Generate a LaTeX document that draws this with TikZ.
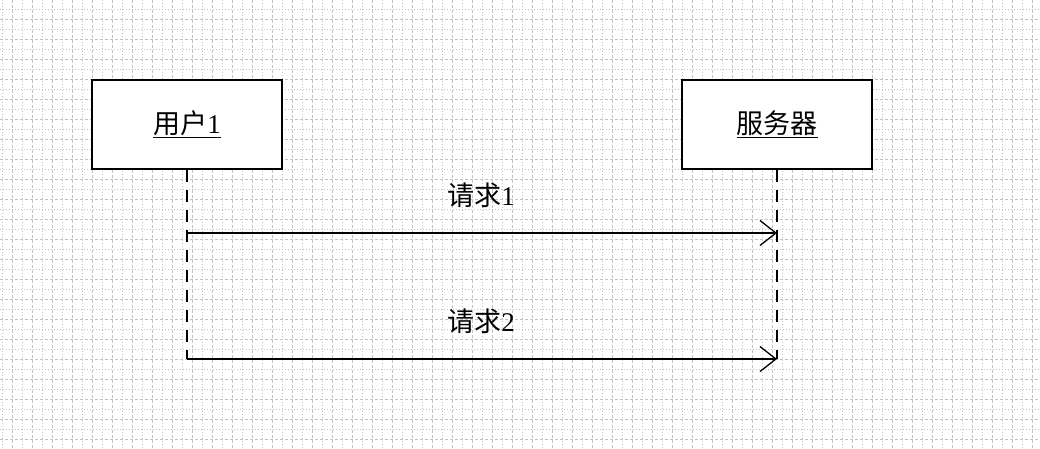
\documentclass[tikz,border=0pt]{standalone}
\usepackage{fontspec}
\setmainfont{Liberation Serif}
\newfontfamily\cjk{Noto Sans CJK SC}
\usetikzlibrary{arrows.meta}

\begin{document}
\begin{tikzpicture}[x=1pt,y=-1pt,font=\fontsize{27}{32}\selectfont,
    actor/.style={draw,line width=1.6pt,fill=white,minimum width=190pt,
        minimum height=89pt,inner sep=0pt},
    lifeline/.style={line width=1.4pt,dash pattern=on 12pt off 8pt},
    msg/.style={line width=1.3pt,
        -{Straight Barb[length=16pt,width=25pt,line width=1.3pt]}},
    minorgrid/.style={black!24,line width=0.8pt,dash pattern=on 1pt off 2pt},
    majorgrid/.style={black!24,line width=0.8pt,dash pattern=on 3pt off 2pt}]
    \useasboundingbox (0,0) rectangle (1040,449);
    \fill[white] (0,0) rectangle (1040,449);

    % grid
    \foreach \x in {2.5,22.5,...,1040}{
        \draw[minorgrid] (\x,0) -- (\x,449);
    }
    \foreach \x in {12.5,32.5,...,1040}{
        \draw[majorgrid] (\x,0) -- (\x,449);
    }
    \foreach \y in {9.5,29.5,...,449}{
        \draw[minorgrid] (0,\y) -- (1040,\y);
    }
    \foreach \y in {19.5,39.5,...,449}{
        \draw[majorgrid] (0,\y) -- (1040,\y);
    }

    % actors
    \node[actor] (user) at (187,124.5) {\underline{{\cjk 用户}1}};
    \node[actor] (server) at (777,124.5) {\underline{\cjk 服务器}};

    \coordinate (u1) at (187,233);
    \coordinate (s1) at (777,233);
    \coordinate (u2) at (187,359);
    \coordinate (s2) at (777,359);

    % lifelines
    \draw[lifeline] (user.south) -- (u2);
    \draw[lifeline] (server.south) -- (s2);

    % messages
    \draw[msg] (u1) -- (s1);
    \draw[msg] (u2) -- (s2);
    \node (req1) at (481,195) {{\cjk 请求}1};
    \node (req2) at (481,321) {{\cjk 请求}2};
\end{tikzpicture}
\end{document}
